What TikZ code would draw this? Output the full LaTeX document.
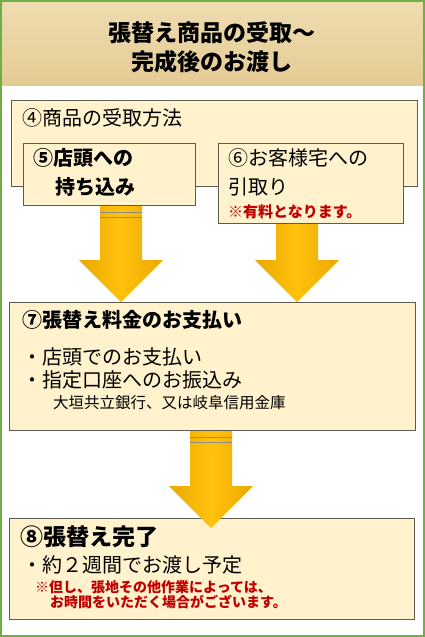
\documentclass[tikz,border=0pt]{standalone}
\usepackage{fontspec}
\setmainfont{Noto Sans CJK JP}
\usetikzlibrary{positioning,calc}

\definecolor{boxfill}{HTML}{FFF2CC}
\definecolor{boxline}{HTML}{5B5B50}
\definecolor{framegreen}{HTML}{70AD47}
\definecolor{papertop}{HTML}{EEDCB0}
\definecolor{paperbot}{HTML}{E4CB94}
\definecolor{goldmid}{HTML}{FFC20E}
\definecolor{goldedge}{HTML}{EBA800}
\definecolor{notered}{HTML}{C00000}

\tikzset{
  stepbox/.style={draw=boxline, line width=1.2pt, fill=boxfill, anchor=north west, inner sep=0pt},
  steptext/.style={anchor=west, inner sep=0pt, font=\fontsize{20pt}{24pt}\selectfont},
  stepbold/.style={steptext, font=\fontsize{20pt}{24pt}\selectfont\bfseries},
  note/.style={anchor=west, inner sep=0pt, text=notered, font=\fontsize{14pt}{17pt}\selectfont\bfseries},
  goldfill/.style={left color=goldedge, right color=goldedge, middle color=goldmid},
  stripe/.style={draw=black!45, line width=1.2pt}
}

% block arrow: x of shaft, from node, to node, overlap into the target
\newcommand{\goldarrow}[4]{%
  \path[goldfill] let \p1=(#2.south), \p2=(#3.north) in
    (#1pt-21pt,\y1) -- (#1pt+21pt,\y1) -- (#1pt+21pt,\y2+42pt-#4pt) -- (#1pt+42pt,\y2+42pt-#4pt)
    -- (#1pt,\y2-#4pt) -- (#1pt-42pt,\y2+42pt-#4pt) -- (#1pt-21pt,\y2+42pt-#4pt) -- cycle;}
% the two bars at the tail
\newcommand{\goldstripes}[2]{%
  \draw[stripe] let \p1=(#2.south) in
    (#1pt-21pt,\y1-6pt) -- (#1pt+21pt,\y1-6pt)
    (#1pt-21pt,\y1-11pt) -- (#1pt+21pt,\y1-11pt);}

\begin{document}
\begin{tikzpicture}[x=1pt,y=1pt]
\useasboundingbox (0,0) rectangle (425,-637);

% header
\shade[top color=papertop, bottom color=paperbot] (2,-2) rectangle (423,-85);
\node[align=center, font=\fontsize{23pt}{29pt}\selectfont\bfseries] (title) at (212,-47)
  {張替え商品の受取～\\完成後のお渡し};

% boxes
\node[stepbox, minimum width=406pt, minimum height=86pt] (b4) at (11,-100) {};
\node[stepbox, minimum width=172pt, minimum height=62pt] (b5) at (23,-143) {};
\node[stepbox, minimum width=185pt, minimum height=80pt] (b6) at (218,-143) {};
\node[stepbox, minimum width=406pt, minimum height=128pt] (b7) at (9,-302) {};
\node[stepbox, minimum width=405pt, minimum height=101pt] (b8) at (9,-518) {};

% texts
\node[steptext] (t4) at ([shift={(11pt,-18pt)}]b4.north west) {④商品の受取方法};
\node[stepbold] (t5a) at ([shift={(10pt,-15pt)}]b5.north west) {⑤店頭への};
\node[stepbold] (t5b) at ([shift={(32pt,-44pt)}]b5.north west) {持ち込み};
\node[steptext] (t6a) at ([shift={(10pt,-15pt)}]b6.north west) {⑥お客様宅への};
\node[steptext] (t6b) at ([shift={(10pt,-44pt)}]b6.north west) {引取り};
\node[note, font=\fontsize{15pt}{18pt}\selectfont\bfseries] (t6c) at ([shift={(10pt,-69pt)}]b6.north west) {※有料となります。};

\node[stepbold] (t7a) at ([shift={(13pt,-18pt)}]b7.north west) {⑦張替え料金のお支払い};
\node[steptext] (t7b) at ([shift={(13pt,-55pt)}]b7.north west) {・店頭でのお支払い};
\node[steptext] (t7c) at ([shift={(13pt,-78pt)}]b7.north west) {・指定口座へのお振込み};
\node[steptext, font=\fontsize{15.5pt}{18pt}\selectfont] (t7d) at ([shift={(44pt,-101pt)}]b7.north west)
  {大垣共立銀行、又は岐阜信用金庫};

\node[stepbold, font=\fontsize{23pt}{27pt}\selectfont\bfseries] (t8a) at ([shift={(11pt,-19pt)}]b8.north west) {⑧張替え完了};
\node[steptext] (t8b) at ([shift={(13pt,-47pt)}]b8.north west) {・約２週間でお渡し予定};
\node[note] (t8c) at ([shift={(26pt,-69pt)}]b8.north west) {※但し、張地その他作業によっては、};
\node[note] (t8d) at ([shift={(41pt,-84pt)}]b8.north west) {お時間をいただく場合がございます。};

% arrows
\goldarrow{121}{b5}{b7}{0}
\goldstripes{121}{b5}
\goldarrow{297}{b6}{b7}{0}
\goldarrow{211}{b7}{b8}{10}
\goldstripes{211}{b7}

% frame
\draw[framegreen, line width=2.4pt] (1.2,-1.2) rectangle (423.8,-635.8);
\end{tikzpicture}
\end{document}
